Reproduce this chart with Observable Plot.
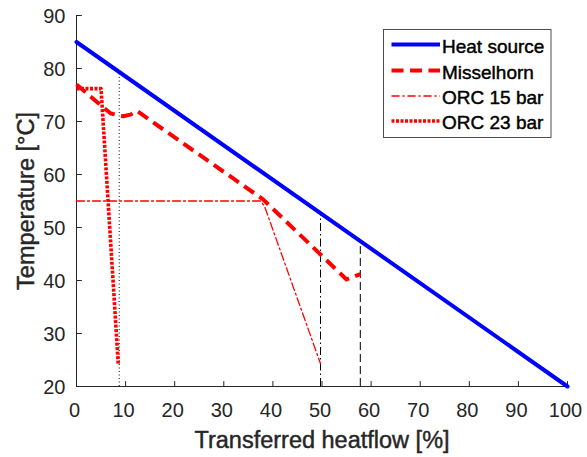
<!DOCTYPE html>
<html>
<head>
<meta charset="utf-8">
<script src="https://cdn.jsdelivr.net/npm/d3@7"></script>
<script src="https://cdn.jsdelivr.net/npm/@observablehq/plot@0.6"></script>
<style>
  html, body { margin: 0; padding: 0; background: white; }
  #wrap { position: relative; width: 587px; height: 457px; }
  #legend { position: absolute; left: 0; top: 0; }
  #wrap text { paint-order: stroke; stroke-width: 0.45px; stroke-linejoin: round; }
</style>
</head>
<body>
<div id="wrap"></div>
<script>
// ---- data ----
const xTicks = [0, 10, 20, 30, 40, 50, 60, 70, 80, 90, 100];
const yTicks = [20, 30, 40, 50, 60, 70, 80, 90];

const heatX = [0, 100];
const heatT = [85, 20];

const misX = [0, 5, 7, 9.5, 11, 12.3, 38, 55, 57.8];
const misT = [77, 73, 71.5, 71, 71.3, 72, 55.3, 40.2, 41.2];

const orc15X = [0, 37.5, 38.3, 49.7];
const orc15T = [55, 55, 54, 24.3];

const orc23X = [0, 5, 8.5];
const orc23T = [76.2, 76.2, 24.3];

const refX = [8.7, 49.7, 57.8];
const refTop = [79.3, 52.7, 47.4];
const refBottom = 20;

const seriesNames = ["Heat source", "Misselhorn", "ORC 15 bar", "ORC 23 bar"];

// ---- build tables ----
const zip = (xs, ys) => xs.map((x, i) => ({x, y: ys[i]}));
const heat = zip(heatX, heatT);
const mis = zip(misX, misT);
const orc15 = zip(orc15X, orc15T);
const orc23 = zip(orc23X, orc23T);
const refs = refX.map((x, i) => ({x, y1: refBottom, y2: refTop[i]}));

const styles = [
  {stroke: "#0000ff", strokeWidth: 4, dash: null},
  {stroke: "#ff0000", strokeWidth: 4, dash: "12,6.5"},
  {stroke: "#ff0000", strokeWidth: 1.3, dash: "8,3,2,3"},
  {stroke: "#ff0000", strokeWidth: 3.6, dash: "3,1.5"}
];
const refDash = ["1,2.5", "8,3,1.5,3", "8,4"];

const axisColor = "#262626";
const font = "'Liberation Sans', Arial, Helvetica, sans-serif";

// a plain tick segment (no arrow head) for inward MATLAB-style ticks
const tickShape = {draw(context, l) { context.moveTo(0, 0); context.lineTo(0, -l); }};

const chart = Plot.plot({
  width: 587,
  height: 457,
  marginLeft: 76,
  marginRight: 20,
  marginTop: 15,
  marginBottom: 71,
  style: {fontFamily: font, background: "white", color: axisColor, overflow: "visible"},
  x: {domain: [0, 100]},
  y: {domain: [20, 90]},
  marks: [
    // tick labels
    Plot.axisX({ticks: xTicks, tickSize: 0, tickPadding: 16, dx: -2, tickFormat: d => String(d), label: null, fontSize: 20, fill: axisColor, stroke: axisColor}),
    Plot.axisY({ticks: yTicks, tickSize: 0, tickPadding: 11, dy: 1, tickFormat: d => String(d), label: null, fontSize: 20, fill: axisColor, stroke: axisColor}),
    // inward tick marks
    Plot.vector(xTicks, {x: d => d, y: yTicks[0], length: 5, rotate: 0, anchor: "start", shape: tickShape, stroke: axisColor, strokeWidth: 1}),
    Plot.vector(yTicks, {x: xTicks[0], y: d => d, length: 5, rotate: 90, anchor: "start", shape: tickShape, stroke: axisColor, strokeWidth: 1}),
    Plot.ruleY([20], {stroke: axisColor, strokeWidth: 1}),
    Plot.ruleX([0], {stroke: axisColor, strokeWidth: 1}),
    Plot.text(["Transferred heatflow [%]"], {frameAnchor: "bottom", textAnchor: "middle", dy: 54, lineAnchor: "middle", fontSize: 23.5, fill: axisColor, stroke: axisColor}),
    Plot.text(["Temperature [°C]"], {frameAnchor: "left", textAnchor: "middle", dx: -50.5, rotate: -90, lineAnchor: "middle", fontSize: 23.5, fill: axisColor, stroke: axisColor}),
    ...refs.map((r, i) => Plot.ruleX([r], {x: "x", y1: "y1", y2: "y2", stroke: "#000", strokeWidth: 1, strokeDasharray: refDash[i]})),
    Plot.line(orc15, {x: "x", y: "y", stroke: styles[2].stroke, strokeWidth: styles[2].strokeWidth, strokeDasharray: styles[2].dash}),
    Plot.line(orc23, {x: "x", y: "y", stroke: styles[3].stroke, strokeWidth: styles[3].strokeWidth, strokeDasharray: styles[3].dash, strokeLinecap: "butt"}),
    Plot.line(mis, {x: "x", y: "y", stroke: styles[1].stroke, strokeWidth: styles[1].strokeWidth, strokeDasharray: styles[1].dash, strokeLinecap: "butt"}),
    Plot.line(heat, {x: "x", y: "y", stroke: styles[0].stroke, strokeWidth: styles[0].strokeWidth})
  ]
});

const wrap = document.getElementById("wrap");
wrap.appendChild(chart);

// ---- legend (inside the axes, top right) ----
const lg = d3.select(wrap).append("svg")
  .attr("id", "legend")
  .attr("width", 587).attr("height", 457)
  .style("pointer-events", "none");
const box = {x: 383.5, y: 29.5, w: 167.5, h: 108};
lg.append("rect").attr("x", box.x).attr("y", box.y).attr("width", box.w).attr("height", box.h)
  .attr("fill", "white").attr("stroke", "#4d4d4d").attr("stroke-width", 1);
const rowY = [44.5, 70.5, 96, 121];
seriesNames.forEach((name, i) => {
  const s = styles[i];
  lg.append("line").attr("x1", 391.5).attr("x2", 440).attr("y1", rowY[i]).attr("y2", rowY[i])
    .attr("stroke", s.stroke).attr("stroke-width", i === 3 ? 3.4 : s.strokeWidth)
    .attr("stroke-dasharray", s.dash).attr("stroke-linecap", "butt");
  lg.append("text").attr("x", 442).attr("y", rowY[i] + 1.5).attr("dy", "0.35em")
    .attr("font-family", font).attr("font-size", 19).attr("fill", "#000").attr("stroke", "#000").text(name);
});
</script>
</body>
</html>
